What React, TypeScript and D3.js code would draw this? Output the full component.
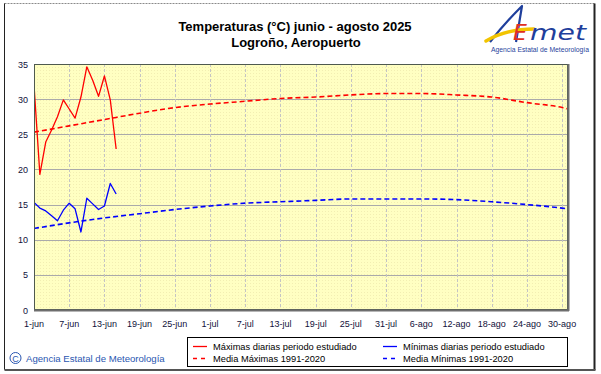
import React from "react";
import * as d3 from "d3";

// chart values
const tickLabels = ["1-jun", "7-jun", "13-jun", "19-jun", "25-jun", "1-jul", "7-jul", "13-jul",
  "19-jul", "25-jul", "31-jul", "6-ago", "12-ago", "18-ago", "24-ago", "30-ago"];
const tickDays = [0, 6, 12, 18, 24, 30, 36, 42, 48, 54, 60, 66, 72, 78, 84, 90];
const yTicks = [0, 5, 10, 15, 20, 25, 30, 35];

const studyDays = [0, 1, 2, 3, 4, 5, 6, 7, 8, 9, 10, 11, 12, 13, 14];
const maxDaily = [32.0, 19.3, 23.9, 25.6, 27.5, 29.9, 28.6, 27.3, 30.3, 34.6, 32.7, 30.4, 33.3, 29.9, 22.9];
const minDaily = [15.3, 14.5, 14.1, 13.4, 12.7, 14.2, 15.2, 14.4, 11.1, 15.9, 15.1, 14.3, 14.8, 18.0, 16.5];

const normalDays = [0, 6, 12, 18, 24, 30, 36, 42, 48, 54, 60, 66, 72, 78, 84, 90, 91];
const normalMax = [25.3, 26.2, 27.1, 28.0, 28.8, 29.3, 29.7, 30.1, 30.3, 30.6, 30.8, 30.8, 30.6, 30.3, 29.5, 28.8, 28.6];
const normalMin = [11.6, 12.4, 13.1, 13.7, 14.3, 14.8, 15.2, 15.4, 15.6, 15.8, 15.8, 15.8, 15.7, 15.4, 15.0, 14.5, 14.4];

const legendItems = [
  { label: "Máximas diarias periodo estudiado", color: "#ff0000", dash: "none" },
  { label: "Mínimas diarias periodo estudiado", color: "#0000ff", dash: "none" },
  { label: "Media Máximas 1991-2020", color: "#ff0000", dash: "4,4" },
  { label: "Media Mínimas 1991-2020", color: "#0000ff", dash: "4,4" },
];

const W = 601;
const H = 374;
const plot = { left: 34, right: 568, top: 64, bottom: 310 };
const FONT = "'Liberation Sans', Arial, sans-serif";

export default function App() {
  const x = d3.scaleLinear().domain([0, 91]).range([plot.left, plot.right]);
  const y = d3.scaleLinear().domain([0, 35]).range([plot.bottom, plot.top]);

  const lineOf = (days: number[], curve: d3.CurveFactory) =>
    d3.line<number>()
      .x((_, i) => x(days[i]))
      .y((d) => y(d))
      .curve(curve);

  const dailyLine = lineOf(studyDays, d3.curveLinear);
  const normalLine = lineOf(normalDays, d3.curveMonotoneX);

  return (
    <svg width={W} height={H} style={{ position: "absolute", left: 0, top: 0 }} fontFamily={FONT}>
      <defs>
        <pattern id="dots" width="3" height="3" patternUnits="userSpaceOnUse">
          <rect width="3" height="3" fill="#ffffc2" />
          <rect x="1" y="1" width="1" height="1" fill="#f2eeb2" />
        </pattern>
        <clipPath id="plotclip">
          <rect x={plot.left} y={plot.top} width={plot.right - plot.left} height={plot.bottom - plot.top} />
        </clipPath>
      </defs>

      <rect width={W} height={H} fill="#ffffff" />
      {/* outer frame with shadow */}
      <rect x={4.5} y={3.5} width={590} height={366} fill="none" stroke="#8a8a8a" strokeWidth={1} strokeDasharray="2,1" />
      <line x1={4.5} y1={3.5} x2={4.5} y2={369.5} stroke="#222" />
      <line x1={594.5} y1={3.5} x2={594.5} y2={370} stroke="#222" strokeWidth={2} />
      <line x1={4.5} y1={370} x2={595.5} y2={370} stroke="#555" strokeWidth={2} />

      {/* title */}
      <text x={295} y={31} textAnchor="middle" fontSize={13} fontWeight="bold" fill="#000">
        Temperaturas (°C) junio - agosto 2025
      </text>
      <text x={296} y={47} textAnchor="middle" fontSize={13} fontWeight="bold" fill="#000">
        Logroño, Aeropuerto
      </text>

      {/* AEMET logo */}
      <g>
        <path d="M490,42 Q504,24 522,6 L516,42" fill="none" stroke="#1f3f9c" strokeWidth={2.2} strokeLinejoin="round" />
        <path d="M486,41 Q506,29 534,29" fill="none" stroke="#f2c400" strokeWidth={3.5} strokeLinecap="round" />
        <text x={513} y={40} fontSize={22} fontStyle="italic" fill="#e0301e" fontFamily="'DejaVu Sans', sans-serif">E</text>
        <text x={530} y={40} fontSize={22} fontStyle="italic" fill="#1f3f9c" fontFamily="'DejaVu Sans', sans-serif"
          textLength={56} lengthAdjust="spacingAndGlyphs">met</text>
        <text x={491} y={52} fontSize={6.5} fill="#1f3f9c" textLength={98} lengthAdjust="spacingAndGlyphs">
          Agencia Estatal de Meteorología
        </text>
      </g>

      {/* plot background */}
      <rect x={plot.left} y={plot.top} width={plot.right - plot.left} height={plot.bottom - plot.top} fill="url(#dots)" />

      {/* grid */}
      {yTicks.filter((t) => t > 0 && t < 35).map((t) => (
        <line key={"h" + t} x1={plot.left} x2={plot.right} y1={Math.round(y(t)) + 0.5} y2={Math.round(y(t)) + 0.5}
          stroke="#aaaaaa" strokeWidth={1} />
      ))}
      {tickDays.filter((d) => d > 0).map((d) => (
        <line key={"v" + d} x1={Math.round(x(d)) + 0.5} x2={Math.round(x(d)) + 0.5} y1={plot.top} y2={plot.bottom}
          stroke="#c4c4c4" strokeWidth={1} strokeDasharray="3,2" />
      ))}

      {/* series */}
      <g clipPath="url(#plotclip)" fill="none">
        <path d={normalLine(normalMax) || ""} stroke="#ff0000" strokeWidth={1.6} strokeDasharray="5,3" />
        <path d={normalLine(normalMin) || ""} stroke="#0000ff" strokeWidth={1.6} strokeDasharray="5,3" />
        <path d={dailyLine(maxDaily) || ""} stroke="#ff0000" strokeWidth={1.3} strokeLinejoin="round" />
        <path d={dailyLine(minDaily) || ""} stroke="#0000ff" strokeWidth={1.3} strokeLinejoin="round" />
      </g>

      {/* plot frame */}
      <rect x={plot.left + 0.5} y={plot.top + 0.5} width={plot.right - plot.left - 1} height={plot.bottom - plot.top - 1}
        fill="none" stroke="#4f5a4f" strokeWidth={1} />
      <line x1={plot.left} x2={plot.right + 1} y1={plot.bottom + 0.5} y2={plot.bottom + 0.5} stroke="#6e6e6e" strokeWidth={2} />
      <line x1={plot.right + 0.5} x2={plot.right + 0.5} y1={plot.top} y2={plot.bottom + 1} stroke="#6e6e6e" strokeWidth={2} />

      {/* y tick labels */}
      {yTicks.map((t) => (
        <text key={"yl" + t} x={28} y={y(t) + 3.5} textAnchor="end" fontSize={9} fill="#10103a">{t}</text>
      ))}
      {/* x tick labels */}
      {tickDays.map((d, i) => (
        <text key={"xl" + d} x={x(d)} y={327} textAnchor="middle" fontSize={9} fill="#10103a">{tickLabels[i]}</text>
      ))}

      {/* copyright */}
      <g fill="#2a56b0">
        <circle cx={15.5} cy={358} r={5.5} fill="none" stroke="#2a56b0" strokeWidth={1} />
        <text x={15.5} y={361.5} textAnchor="middle" fontSize={9}>C</text>
        <text x={26} y={361.5} fontSize={9.6}>Agencia Estatal de Meteorología</text>
      </g>

      {/* legend */}
      <rect x={187.5} y={337.5} width={380} height={29} fill="#ffffff" stroke="#000" strokeWidth={1} />
      {legendItems.map((it, i) => {
        const col = i % 2;
        const row = Math.floor(i / 2);
        const lx = col === 0 ? 193 : 383;
        const ly = row === 0 ? 346.5 : 358.5;
        return (
          <g key={it.label}>
            <line x1={lx} x2={lx + 14} y1={ly} y2={ly} stroke={it.color} strokeWidth={1.3}
              strokeDasharray={it.dash === "none" ? undefined : it.dash} />
            <text x={lx + 20} y={ly + 3.3} fontSize={9.3} fill="#000">{it.label}</text>
          </g>
        );
      })}
    </svg>
  );
}
